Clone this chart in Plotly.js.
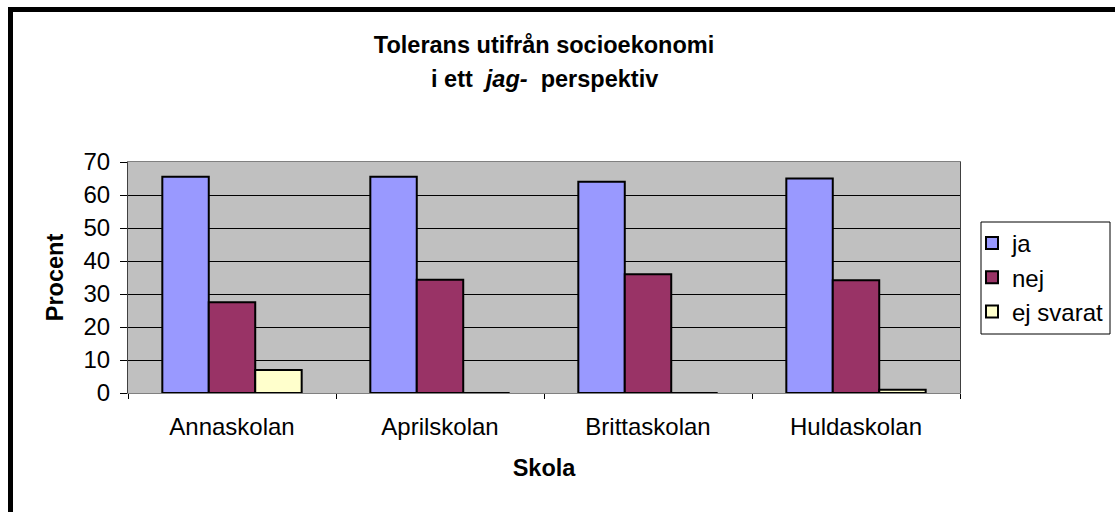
<!DOCTYPE html>
<html>
<head>
<meta charset="utf-8">
<script src="https://cdn.plot.ly/plotly-3.0.1.min.js"></script>
<style>html,body{margin:0;padding:0;background:#fff;}#chart{width:1115px;height:512px;}</style>
</head>
<body>
<div id="chart"></div>
<script>
const categories = ["Annaskolan", "Aprilskolan", "Brittaskolan", "Huldaskolan"];
const seriesNames = ["ja", "nej", "ej svarat"];
const ja = [65.5, 65.5, 64, 65];
const nej = [27.5, 34.3, 36, 34.2];
const ejSvarat = [7, 0, 0, 1];
const yTicks = [0, 10, 20, 30, 40, 50, 60, 70];
const colors = ["#9999FF", "#993366", "#FFFFCC"];

const values = [ja, nej, ejSvarat];
const traces = values.map((v, i) => ({
  type: "bar",
  name: seriesNames[i],
  x: categories,
  y: v,
  legendgroup: "g" + i,
  marker: { color: colors[i], line: { color: "#000", width: 2 } },
  hoverinfo: "x+y+name"
}));

const font = "Arial, 'Liberation Sans', sans-serif";
const px = (p) => (p - 128) / 832;
const py = (p) => (393 - p) / 231;
const layout = {
  width: 1115, height: 512,
  margin: { l: 128, r: 155, t: 162, b: 119, autoexpand: false },
  paper_bgcolor: "#fff",
  plot_bgcolor: "#C0C0C0",
  font: { family: font, color: "#000", size: 24 },
  showlegend: true,
  barmode: "group",
  bargap: 0.33,
  bargroupgap: 0,
  title: {
    text: "<b>Tolerans utifrån socioekonomi</b>",
    font: { family: font, size: 23.5, color: "#000" },
    x: 0.5, xref: "paper", xanchor: "center",
    y: 1 - 45 / 512, yanchor: "middle"
  },
  annotations: [{
    text: "<b>i ett  <i>jag-</i>  perspektiv</b>",
    xref: "paper", yref: "paper",
    x: 0.5, y: py(79), xanchor: "center", yanchor: "middle",
    showarrow: false,
    font: { family: font, size: 23.5, color: "#000" }
  }],
  xaxis: {
    type: "category",
    tickson: "boundaries",
    ticks: "outside", ticklen: 5, tickcolor: "#000", tickwidth: 1,
    showline: true, linecolor: "#808080", linewidth: 1, mirror: true,
    showgrid: false,
    tickfont: { family: font, size: 24, color: "#000" },
    ticklabelstandoff: 12,
    title: { text: "<b>Skola</b>", font: { family: font, size: 23.5, color: "#000" }, standoff: 20 }
  },
  yaxis: {
    range: [0, 70],
    tickvals: yTicks,
    ticks: "outside", ticklen: 7, tickcolor: "#000", tickwidth: 1,
    showline: true, linecolor: "#404040", linewidth: 1, mirror: true,
    showgrid: true, gridcolor: "#000", gridwidth: 1,
    zeroline: false,
    tickfont: { family: font, size: 24, color: "#000" },
    ticklabelstandoff: 5,
    title: { text: "<b>Procent</b>", font: { family: font, size: 23.5, color: "#000" }, standoff: 13 }
  },
  legend: {
    x: px(972), y: py(221),
    xanchor: "left", yanchor: "top",
    bgcolor: "rgba(0,0,0,0)", borderwidth: 0,
    font: { family: font, size: 24, color: "#000" },
    traceorder: "grouped", tracegroupgap: 0,
    itemwidth: 30
  },
  shapes: [{
    type: "rect", xref: "paper", yref: "paper",
    x0: px(981), x1: px(1110), y0: py(334), y1: py(222),
    line: { color: "#000", width: 1 }, fillcolor: "#fff", layer: "above"
  }, {
    type: "rect", xref: "paper", yref: "paper",
    x0: px(10.5), x1: px(1140),
    y0: py(540), y1: py(9.5),
    line: { color: "#000", width: 5 }, fillcolor: "rgba(0,0,0,0)"
  }]
};

Plotly.newPlot("chart", traces, layout, { displayModeBar: false, responsive: false });
</script>
</body>
</html>
